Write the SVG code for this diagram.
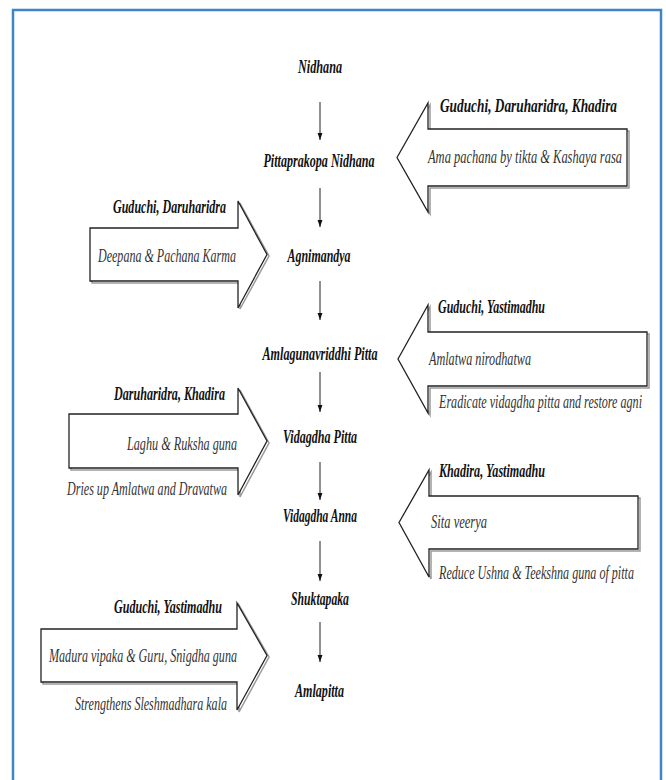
<svg xmlns="http://www.w3.org/2000/svg" width="666" height="780" viewBox="0 0 666 780">
<defs>
<style>
.bg{fill:#ffffff}
.frame{fill:none;stroke:#3d85c6;stroke-width:2.5}
.node{font-family:"Liberation Serif",serif;font-style:italic;font-weight:bold;font-size:18px;fill:#111}
.hdr{font-family:"Liberation Serif",serif;font-style:italic;font-weight:bold;font-size:18px;fill:#111}
.desc{font-family:"Liberation Serif",serif;font-style:italic;font-size:18px;fill:#333}
.big{fill:#fff;stroke:#222;stroke-width:1.3;stroke-linejoin:miter}
.shadow{fill:none;stroke:#9a9a9a;stroke-width:1.5}
.conn line{stroke:#222;stroke-width:1}
</style>
<marker id="ahd" markerUnits="userSpaceOnUse" markerWidth="7" markerHeight="10" refX="10" refY="3.5" orient="auto" viewBox="0 0 10 7">
<path d="M0,0 L10,3.5 L0,7 Z" fill="#111"/>
</marker>
</defs>
<rect class="bg" x="0" y="0" width="666" height="780"/>
<path class="frame" d="M13,782 V10 H661 V782"/>

<g id="connectors" class="conn">
<line x1="320" y1="102" x2="320" y2="140" marker-end="url(#ahd)"/>
<line x1="320" y1="188" x2="320" y2="227" marker-end="url(#ahd)"/>
<line x1="320" y1="281" x2="320" y2="320" marker-end="url(#ahd)"/>
<line x1="320" y1="372" x2="320" y2="412" marker-end="url(#ahd)"/>
<line x1="320" y1="462" x2="320" y2="500" marker-end="url(#ahd)"/>
<line x1="320" y1="541" x2="320" y2="581" marker-end="url(#ahd)"/>
<line x1="320" y1="622" x2="320" y2="662" marker-end="url(#ahd)"/>
</g>

<g id="n-nidhana"><text class="node" transform="translate(320,73) scale(0.75,1)" text-anchor="middle" textLength="58.7" lengthAdjust="spacingAndGlyphs">Nidhana</text></g>
<g id="n-pittaprakopa"><text class="node" transform="translate(319,167) scale(0.75,1)" text-anchor="middle" textLength="148" lengthAdjust="spacingAndGlyphs">Pittaprakopa Nidhana</text></g>
<g id="n-agnimandya"><text class="node" transform="translate(319,262) scale(0.75,1)" text-anchor="middle" textLength="84" lengthAdjust="spacingAndGlyphs">Agnimandya</text></g>
<g id="n-amlaguna"><text class="node" transform="translate(320,360) scale(0.75,1)" text-anchor="middle" textLength="153.3" lengthAdjust="spacingAndGlyphs">Amlagunavriddhi Pitta</text></g>
<g id="n-vidpitta"><text class="node" transform="translate(320,443) scale(0.75,1)" text-anchor="middle" textLength="98.7" lengthAdjust="spacingAndGlyphs">Vidagdha Pitta</text></g>
<g id="n-vidanna"><text class="node" transform="translate(320,522) scale(0.75,1)" text-anchor="middle" textLength="98.7" lengthAdjust="spacingAndGlyphs">Vidagdha Anna</text></g>
<g id="n-shukta"><text class="node" transform="translate(320,605) scale(0.75,1)" text-anchor="middle" textLength="77.3" lengthAdjust="spacingAndGlyphs">Shuktapaka</text></g>
<g id="n-amlapitta"><text class="node" transform="translate(319.5,697) scale(0.75,1)" text-anchor="middle" textLength="65.3" lengthAdjust="spacingAndGlyphs">Amlapitta</text></g>

<g id="a1">
<polygon class="shadow" points="399,159.5 430,105 430,131 629,131 629,188 430,188 430,214"/>
<polygon class="big" points="397,157.5 428,103 428,129 627,129 627,186 428,186 428,212"/>
<text class="hdr" transform="translate(440,112) scale(0.75,1)" textLength="236" lengthAdjust="spacingAndGlyphs">Guduchi, Daruharidra, Khadira</text>
<text class="desc" transform="translate(428,163) scale(0.75,1)" textLength="258.7" lengthAdjust="spacingAndGlyphs">Ama pachana by tikta &amp; Kashaya rasa</text>
</g>

<g id="a2">
<polygon class="shadow" points="92,230 240,230 240,203 269,256 240,309 240,283 92,283"/>
<polygon class="big" points="90,228 238,228 238,201 267,254.5 238,308 238,281 90,281"/>
<text class="hdr" transform="translate(226,213) scale(0.75,1)" text-anchor="end" textLength="150.7" lengthAdjust="spacingAndGlyphs">Guduchi, Daruharidra</text>
<text class="desc" transform="translate(236,262) scale(0.75,1)" text-anchor="end" textLength="184" lengthAdjust="spacingAndGlyphs">Deepana &amp; Pachana Karma</text>
</g>

<g id="a3">
<polygon class="shadow" points="400,361 430,307 430,334 649,334 649,388 430,388 430,415"/>
<polygon class="big" points="398,359 428,305 428,332 647,332 647,386 428,386 428,413"/>
<text class="hdr" transform="translate(438,313) scale(0.75,1)" textLength="142.7" lengthAdjust="spacingAndGlyphs">Guduchi, Yastimadhu</text>
<text class="desc" transform="translate(429,365) scale(0.75,1)" textLength="136" lengthAdjust="spacingAndGlyphs">Amlatwa nirodhatwa</text>
<text class="desc" transform="translate(439,408) scale(0.75,1)" textLength="270.7" lengthAdjust="spacingAndGlyphs">Eradicate vidagdha pitta and restore agni</text>
</g>

<g id="a4">
<polygon class="shadow" points="71,416 240,416 240,390 269,443 240,497 240,470 71,470"/>
<polygon class="big" points="69,414 238,414 238,388 267,441 238,495 238,468 69,468"/>
<text class="hdr" transform="translate(225,400) scale(0.75,1)" text-anchor="end" textLength="148" lengthAdjust="spacingAndGlyphs">Daruharidra, Khadira</text>
<text class="desc" transform="translate(237,450) scale(0.75,1)" text-anchor="end" textLength="146.7" lengthAdjust="spacingAndGlyphs">Laghu &amp; Ruksha guna</text>
<text class="desc" transform="translate(227,495) scale(0.75,1)" text-anchor="end" textLength="213.3" lengthAdjust="spacingAndGlyphs">Dries up Amlatwa and Dravatwa</text>
</g>

<g id="a5">
<polygon class="shadow" points="401,524.5 431,472 431,498 640,498 640,551 431,551 431,579"/>
<polygon class="big" points="399,522.5 429,470 429,496 638,496 638,549 429,549 429,577"/>
<text class="hdr" transform="translate(439,477) scale(0.75,1)" textLength="141.3" lengthAdjust="spacingAndGlyphs">Khadira, Yastimadhu</text>
<text class="desc" transform="translate(431,528) scale(0.75,1)" textLength="74.7" lengthAdjust="spacingAndGlyphs">Sita veerya</text>
<text class="desc" transform="translate(439,579) scale(0.75,1)" textLength="260" lengthAdjust="spacingAndGlyphs">Reduce Ushna &amp; Teekshna guna of pitta</text>
</g>

<g id="a6">
<polygon class="shadow" points="43,631 239,631 239,605 269,657 239,712 239,684 43,684"/>
<polygon class="big" points="41,629 237,629 237,603 267,655.5 237,710 237,682 41,682"/>
<text class="hdr" transform="translate(222,613) scale(0.75,1)" text-anchor="end" textLength="144" lengthAdjust="spacingAndGlyphs">Guduchi, Yastimadhu</text>
<text class="desc" transform="translate(237,662) scale(0.75,1)" text-anchor="end" textLength="250.7" lengthAdjust="spacingAndGlyphs">Madura vipaka &amp; Guru, Snigdha guna</text>
<text class="desc" transform="translate(227,710) scale(0.75,1)" text-anchor="end" textLength="202.7" lengthAdjust="spacingAndGlyphs">Strengthens Sleshmadhara kala</text>
</g>
</svg>
